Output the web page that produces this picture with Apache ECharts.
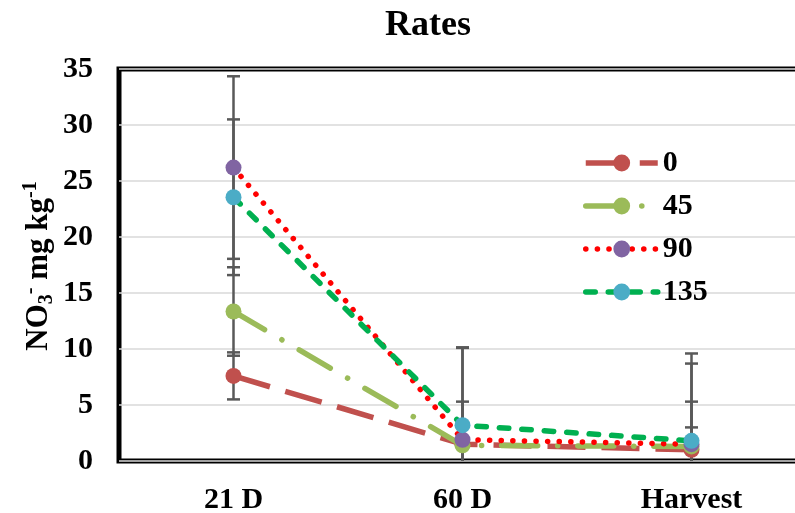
<!DOCTYPE html>
<html>
<head>
<meta charset="utf-8">
<script src="https://cdn.jsdelivr.net/npm/echarts@6/dist/echarts.min.js"></script>
<style>html,body{margin:0;padding:0;background:#fff;overflow:hidden}#c{width:795px;height:513px}</style>
</head>
<body>
<div id="c"></div>
<script>
var categories = ['21 D', '60 D', 'Harvest'];
var seriesNames = ['0', '45', '90', '135'];
var rate0 = [7.6, 1.5, 1.0];
var rate45 = [13.35, 1.4, 1.3];
var rate90 = [26.2, 1.9, 1.5];
var rate135 = [23.55, 3.2, 1.8];
var err0 = [2.1, 0.3, 2.0];
var err45 = [3.95, 3.9, 4.0];
var err90 = [8.15, 8.2, 7.2];
var err135 = [6.95, 6.95, 7.8];
var yTicks = [0, 5, 10, 15, 20, 25, 30, 35];

var FONT = 'Liberation Serif';
var values = [rate0, rate45, rate90, rate135];
var errs = [err0, err45, err90, err135];
var lineColors = ['#C0504D', '#9BBB59', '#FF0000', '#00B050'];
var markColors = ['#C0504D', '#9BBB59', '#8064A2', '#4BACC6'];
var dashes = [[38, 16], [36, 20, 0.1, 20], [0.1, 11.5], [9.5, 13]];
var caps = ['butt', 'round', 'round', 'round'];

var errData = [];
for (var s = 0; s < values.length; s++) {
  for (var i = 0; i < categories.length; i++) {
    errData.push([i, values[s][i] - errs[s][i], values[s][i] + errs[s][i]]);
  }
}

var chart = echarts.init(document.getElementById('c'));
var series = [{
  type: 'custom',
  name: 'err',
  z: 1,
  data: errData,
  renderItem: function (params, api) {
    var cs = params.coordSys;
    var top = api.coord([api.value(0), api.value(2)]);
    var low = api.coord([api.value(0), api.value(1)]);
    var x = top[0];
    var bottomY = cs.y + cs.height;
    var lowY = Math.min(low[1], bottomY);
    var style = {stroke: '#595959', lineWidth: 2.5};
    var children = [
      {type: 'line', shape: {x1: x, y1: top[1], x2: x, y2: lowY}, style: style},
      {type: 'line', shape: {x1: x - 6.5, y1: top[1], x2: x + 6.5, y2: top[1]}, style: style}
    ];
    if (low[1] <= bottomY) {
      children.push({type: 'line', shape: {x1: x - 6.5, y1: low[1], x2: x + 6.5, y2: low[1]}, style: style});
    }
    return {type: 'group', children: children};
  }
}];
for (var k = 0; k < values.length; k++) {
  series.push({
    type: 'line',
    name: seriesNames[k],
    data: values[k],
    z: 2 + k,
    symbol: 'circle',
    symbolSize: 16,
    lineStyle: {color: lineColors[k], width: 5.5, type: dashes[k], cap: caps[k]},
    itemStyle: {color: markColors[k]},
    emphasis: {disabled: true}
  });
}

chart.setOption({
  animation: false,
  backgroundColor: '#fff',
  title: {
    text: 'Rates', left: 380, top: 3,
    textStyle: {fontFamily: FONT, fontWeight: 'bold', fontSize: 36, color: '#000'}
  },
  legend: {
    data: seriesNames,
    orient: 'vertical',
    left: 583, top: 148, padding: 0,
    itemWidth: 72, itemHeight: 21, itemGap: 13,
    lineStyle: {width: 5.5},
    textStyle: {fontFamily: FONT, fontWeight: 'bold', fontSize: 30, color: '#000', lineHeight: 30}
  },
  grid: {
    left: 119, width: 687, top: 69, bottom: 52,
    outerBoundsMode: 'none', containLabel: false,
    show: true, borderColor: '#000', borderWidth: 5, backgroundColor: 'transparent'
  },
  xAxis: {
    type: 'category', data: categories, boundaryGap: true,
    axisLine: {show: false}, axisTick: {show: false},
    axisLabel: {fontFamily: FONT, fontWeight: 'bold', fontSize: 30, color: '#000', margin: 24}
  },
  yAxis: {
    type: 'value', min: yTicks[0], max: yTicks[yTicks.length - 1], interval: 5,
    axisLine: {show: false}, axisTick: {show: false},
    splitLine: {lineStyle: {color: '#D9D9D9', width: 1.5}},
    axisLabel: {fontFamily: FONT, fontWeight: 'bold', fontSize: 30, color: '#000', margin: 26}
  },
  graphic: [{
    type: 'text', x: 39, y: 266, rotation: Math.PI / 2,
    style: {
      text: '{b|NO}{sub|3}{sup|-}{b| mg kg}{sup|-1}',
      align: 'center', verticalAlign: 'middle',
      rich: {
        b: {fontFamily: FONT, fontWeight: 'bold', fontSize: 31, lineHeight: 36, verticalAlign: 'middle', fill: '#000'},
        sub: {fontFamily: FONT, fontWeight: 'bold', fontSize: 20, lineHeight: 36, verticalAlign: 'bottom', fill: '#000'},
        sup: {fontFamily: FONT, fontWeight: 'bold', fontSize: 20, lineHeight: 36, verticalAlign: 'top', fill: '#000'}
      }
    }
  }],
  series: series
});
</script>
</body>
</html>
